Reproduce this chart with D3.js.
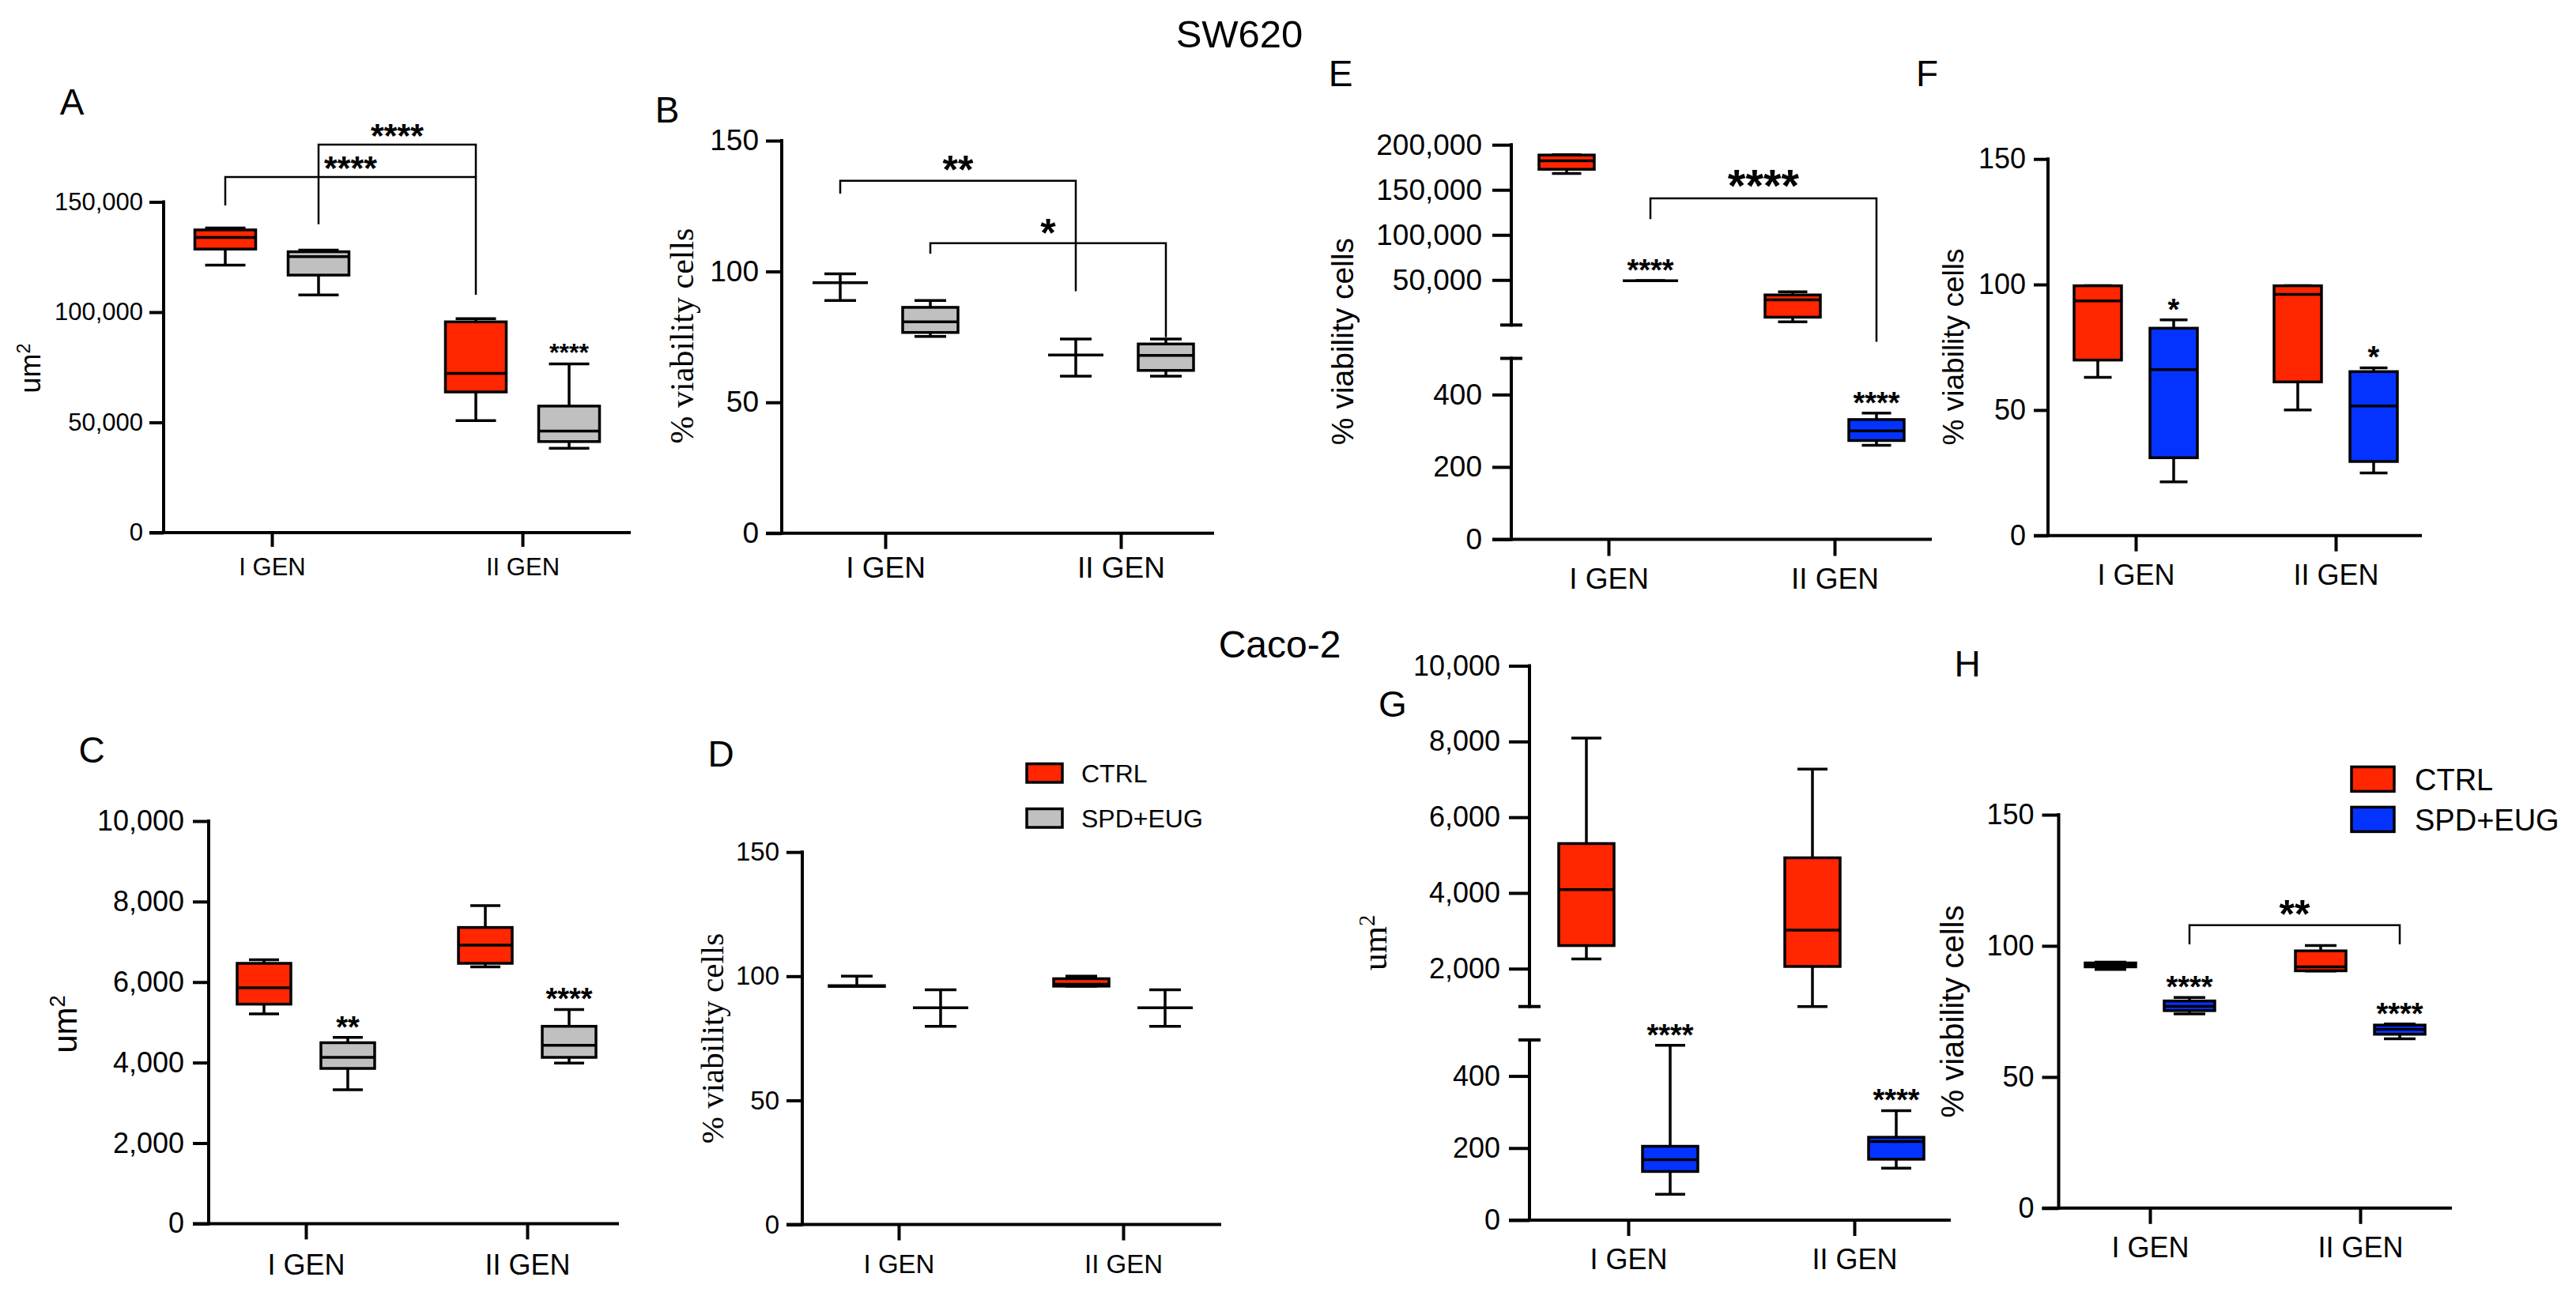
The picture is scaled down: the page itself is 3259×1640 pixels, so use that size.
<!DOCTYPE html>
<html lang="en">
<head>
    <meta charset="UTF-8">
    <title>SW620 and Caco-2 box plots</title>
    <style>
        body {
            margin: 0;
            background-color: #fff;
        }
        svg {
            display: block;
            background-color: #fff;
        }
        text {
            fill: #000;
        }
    </style>
</head>
<body>

    <div id="fig"></div>

    <script src="https://cdn.jsdelivr.net/npm/d3@7"></script>

    <script>
        // ---- data ----
        var categories = ["I GEN", "II GEN"];
        var legendLabels = ["CTRL", "SPD+EUG"];

        // every row is one box: [min, q1, median, q3, max]
        var aCtrl  = [[121300, 128600, 133900, 137300, 138200], [50800, 63800, 72200, 95600, 97000]];
        var aTreat = [[107800, 116800, 125200, 127400, 128100], [38300, 41300, 46100, 57400, 76500]];
        var aStars = ["", "****"];

        var bCtrl  = [[88.9, 95.7, 95.7, 95.7, 99.1], [60.0, 68.1, 68.1, 68.1, 74.2]];
        var bTreat = [[75.2, 76.7, 80.8, 86.3, 88.9], [60.0, 62.2, 67.9, 72.3, 74.2]];
        var bStars = ["", ""];

        var eCtrl  = [[168200, 172800, 182200, 188600, 189000], [3600, 8700, 27900, 33400, 36800]];
        var eTreat = [[49100, 49100, 49100, 49100, 49100], [260, 273, 299.5, 331, 349]];
        var eStars = ["****", "****"];

        var fCtrl  = [[63.0, 69.9, 93.5, 99.5, 99.5], [50.0, 61.2, 96.1, 99.5, 99.5]];
        var fTreat = [[21.4, 31.0, 66.1, 82.6, 85.9], [24.9, 29.5, 51.6, 65.3, 66.8]];
        var fStars = ["*", "*"];

        var cCtrl  = [[5210, 5452, 5860, 6466, 6554], [6378, 6466, 6917, 7357, 7900]];
        var cTreat = [[3325, 3855, 4130, 4494, 4627], [3987, 4130, 4428, 4902, 5320]];
        var cStars = ["**", "****"];

        var dCtrl  = [[95.9, 95.9, 96.0, 96.2, 100], [96.0, 96.0, 96.8, 99.0, 100]];
        var dTreat = [[79.8, 87.3, 87.3, 87.3, 94.5], [79.8, 87.3, 87.3, 87.3, 94.5]];
        var dStars = ["", ""];

        var gCtrl  = [[2259, 2610, 4086, 5305, 8092], [1000, 2058, 3019, 4929, 7273]];
        var gTreat = [[72, 135, 168, 205, 485], [144, 169, 218, 230, 304]];
        var gStars = ["****", "****"];

        var hCtrl  = [[91.0, 92.0, 92.8, 93.5, 93.8], [90.4, 90.5, 92.0, 98.1, 100.1]];
        var hTreat = [[74.1, 75.3, 76.9, 79.0, 80.3], [64.6, 66.3, 68.2, 69.8, 70.2]];
        var hStars = ["****", "****"];

        // comparison brackets: [category, series] at each end, bar level and leg ends in data units
        // (a null leg end runs down into the axis break)
        var aBrackets = [
            { from: [0, 0], to: [1, 0], level: 161300, ends: [148400, 107900], text: "****" },
            { from: [0, 1], to: [1, 0], level: 176000, ends: [139900, 161300], text: "****" }
        ];
        var bBrackets = [
            { from: [0, 0], to: [1, 0], level: 134.7, ends: [129.8, 92.5], text: "**" },
            { from: [0, 1], to: [1, 1], level: 110.8, ends: [106.8, 74.9], text: "*" }
        ];
        var eBrackets = [
            { from: [0, 1], to: [1, 1], level: 140600, ends: [117500, null], text: "****" }
        ];
        var hBrackets = [
            { from: [0, 1], to: [1, 1], level: 107.9, ends: [100.6, 100.6], text: "**" }
        ];

        // tick values
        var aTicks = [0, 50000, 100000, 150000];
        var pctTicks = [0, 50, 100, 150];
        var cTicks = [0, 2000, 4000, 6000, 8000, 10000];
        var eTopTicks = [50000, 100000, 150000, 200000];
        var eBottomTicks = [0, 200, 400];
        var gTopTicks = [2000, 4000, 6000, 8000, 10000];
        var gBottomTicks = [0, 200, 400];

        // ---- styling ----
        var RED = "#ff2600";
        var GRAY = "#c0c0c0";
        var BLUE = "#0433ff";
        var SANS = "'Liberation Sans', Arial, sans-serif";
        var SERIF = "'Liberation Serif', 'Times New Roman', serif";

        var W = 3259, H = 1640;

        var svg = d3.select("#fig")
            .append("svg")
            .attr("width", W)
            .attr("height", H)
            .style("font-family", SANS);

        function styleAxis(ax, size) {
            ax.attr("font-family", null).attr("font-size", null);
            ax.selectAll(".tick line").attr("stroke", "#000").attr("stroke-width", 4);
            ax.selectAll(".tick text")
                .style("font-size", size + "px")
                .style("font-family", SANS)
                .attr("fill", "#000");
        }

        function line(g, x1, y1, x2, y2, w) {
            return g.append("line")
                .attr("x1", x1).attr("y1", y1)
                .attr("x2", x2).attr("y2", y2)
                .attr("stroke", "#000")
                .attr("stroke-width", w);
        }

        function stars(g, x, cy, txt, size) {
            // asterisks sit high in the em box, so shift the baseline down
            g.append("text")
                .attr("x", x)
                .attr("y", cy + 0.575 * size)
                .attr("text-anchor", "middle")
                .style("font-size", size + "px")
                .style("font-weight", "bold")
                .text(txt);
        }

        function drawPanel(L, series, colors, boxStars, brackets) {
            var g = svg.append("g");

            var x = d3.scalePoint().domain(categories).range(L.ticksX);
            var ys = L.segs.map(function(s) {
                return d3.scaleLinear().domain(s.domain).range(s.range);
            });
            var baseY = L.segs[L.segs.length - 1].range[0];

            // y axis, one piece per segment of a broken axis
            L.segs.forEach(function(s, i) {
                var ax = g.append("g")
                    .attr("transform", "translate(" + L.yAxisX + ",0)")
                    .call(d3.axisLeft(ys[i])
                        .tickValues(s.ticks)
                        .tickFormat(d3.format(","))
                        .tickSize(L.ytl)
                        .tickPadding(L.ypad));
                ax.select(".domain").remove();
                styleAxis(ax, L.font);
                line(g, L.yAxisX, s.range[0], L.yAxisX, s.range[1], 4).attr("stroke-linecap", "square");
                if (s.breakBottom) line(g, L.yAxisX - 14, s.range[0], L.yAxisX + 14, s.range[0], 4);
                if (s.breakTop) line(g, L.yAxisX - 14, s.range[1], L.yAxisX + 14, s.range[1], 4);
            });

            // x axis
            var xa = g.append("g")
                .attr("transform", "translate(0," + baseY + ")")
                .call(d3.axisBottom(x).tickSize(L.xtl).tickPadding(L.xpad));
            xa.select(".domain").remove();
            styleAxis(xa, L.font);
            line(g, L.yAxisX - L.ytl, baseY, L.xEnd, baseY, 4);

            // pick the lowest axis segment that can hold a box
            function scaleFor(v) {
                for (var i = ys.length - 1; i >= 0; i--) {
                    if (L.segs[i].domain[1] >= v) return ys[i];
                }
                return ys[0];
            }
            function cxOf(ci, si) {
                return x(categories[ci]) + (si === 0 ? -L.dx : L.dx);
            }

            series.forEach(function(rows, si) {
                rows.forEach(function(q, ci) {
                    var y = scaleFor(q[4]);
                    var cx = cxOf(ci, si);
                    var hw = L.bw / 2, cw = L.cw / 2;

                    // whiskers and caps
                    line(g, cx, y(q[4]), cx, y(q[3]), 3.5);
                    line(g, cx, y(q[1]), cx, y(q[0]), 3.5);
                    line(g, cx - cw, y(q[4]), cx + cw, y(q[4]), 3.5);
                    line(g, cx - cw, y(q[0]), cx + cw, y(q[0]), 3.5);

                    // box and median
                    g.append("rect")
                        .attr("x", cx - hw)
                        .attr("y", y(q[3]))
                        .attr("width", L.bw)
                        .attr("height", Math.max(0, y(q[1]) - y(q[3])))
                        .attr("fill", colors[si])
                        .attr("stroke", "#000")
                        .attr("stroke-width", 3.5);
                    line(g, cx - hw, y(q[2]), cx + hw, y(q[2]), 3.5);

                    if (si === 1 && boxStars[ci]) {
                        stars(g, cx, y(q[4]) - 22, boxStars[ci], L.starSize);
                    }
                });
            });

            // significance brackets, drawn on the first (top) segment scale
            var yb = ys[0];
            var gapY = L.segs.length > 1 ? (L.segs[0].range[0] + L.segs[1].range[1]) / 2 : null;
            brackets.forEach(function(b) {
                var x1 = cxOf(b.from[0], b.from[1]);
                var x2 = cxOf(b.to[0], b.to[1]);
                var yl = yb(b.level);
                var e1 = b.ends[0] === null ? gapY : yb(b.ends[0]);
                var e2 = b.ends[1] === null ? gapY : yb(b.ends[1]);
                g.append("path")
                    .attr("d", "M" + x1 + "," + e1 + "V" + yl + "H" + x2 + "V" + e2)
                    .attr("fill", "none")
                    .attr("stroke", "#000")
                    .attr("stroke-width", 2.5);
                stars(g, (x1 + x2) / 2, yl - 0.5 * L.bracketSize, b.text, L.bracketSize);
            });

            // y axis title
            var t = g.append("text")
                .attr("transform", "translate(" + L.title.x + "," + L.title.y + ") rotate(-90)")
                .attr("text-anchor", "middle")
                .style("font-size", L.title.size + "px")
                .style("font-family", L.title.serif ? SERIF : SANS)
                .text(L.title.text);
            if (L.title.sup) {
                t.append("tspan")
                    .attr("baseline-shift", "super")
                    .style("font-size", "65%")
                    .text(L.title.sup);
            }

            // panel letter
            g.append("text")
                .attr("x", L.letter.x)
                .attr("y", L.letter.y)
                .attr("text-anchor", "middle")
                .style("font-size", "46px")
                .text(L.letter.text);

            if (L.legend) drawLegend(g, L.legend, colors);
        }

        function drawLegend(g, lg, colors) {
            legendLabels.forEach(function(name, i) {
                var top = lg.y + i * lg.step;
                g.append("rect")
                    .attr("x", lg.x)
                    .attr("y", top)
                    .attr("width", lg.w)
                    .attr("height", lg.h)
                    .attr("fill", colors[i])
                    .attr("stroke", "#000")
                    .attr("stroke-width", 3.5);
                g.append("text")
                    .attr("x", lg.textX)
                    .attr("y", top + lg.h / 2)
                    .attr("dy", "0.36em")
                    .style("font-size", lg.size + "px")
                    .text(name);
            });
        }

        // ---- panels ----
        drawPanel({
            yAxisX: 207, xEnd: 798, ticksX: [344, 661], dx: 59, bw: 77, cw: 51,
            segs: [{ domain: [0, 150000], range: [674, 255.5], ticks: aTicks }],
            font: 31, ytl: 18, ypad: 8, xtl: 18, xpad: 14, starSize: 32, bracketSize: 43,
            title: { text: "um", sup: "2", x: 51, y: 466, size: 36 },
            letter: { text: "A", x: 91, y: 145 }
        }, [aCtrl, aTreat], [RED, GRAY], aStars, aBrackets);

        drawPanel({
            yAxisX: 989, xEnd: 1536, ticksX: [1120, 1418], dx: 57, bw: 70, cw: 40,
            segs: [{ domain: [0, 150], range: [674.7, 178], ticks: pctTicks }],
            font: 37, ytl: 20, ypad: 9, xtl: 20, xpad: 10, starSize: 38, bracketSize: 50,
            title: { text: "% viability cells", serif: true, x: 877, y: 425, size: 42 },
            letter: { text: "B", x: 844, y: 155 }
        }, [bCtrl, bTreat], [RED, GRAY], bStars, bBrackets);

        drawPanel({
            yAxisX: 1912, xEnd: 2444, ticksX: [2035, 2321], dx: 53, bw: 70, cw: 37,
            segs: [
                { domain: [0, 200000], range: [411.3, 183.2], ticks: eTopTicks, breakBottom: true },
                { domain: [0, 500], range: [682.5, 453.5], ticks: eBottomTicks, breakTop: true }
            ],
            font: 37, ytl: 24, ypad: 13, xtl: 21, xpad: 15, starSize: 38, bracketSize: 58,
            title: { text: "% viability cells", x: 1712, y: 432, size: 39 },
            letter: { text: "E", x: 1696, y: 109 }
        }, [eCtrl, eTreat], [RED, BLUE], eStars, eBrackets);

        drawPanel({
            yAxisX: 2591, xEnd: 3064, ticksX: [2702, 2955], dx: 48, bw: 60, cw: 35,
            segs: [{ domain: [0, 150], range: [677.7, 201.2], ticks: pctTicks }],
            font: 36, ytl: 18, ypad: 10, xtl: 20, xpad: 17, starSize: 38, bracketSize: 50,
            title: { text: "% viability cells", x: 2484, y: 439, size: 37 },
            letter: { text: "F", x: 2438, y: 109 }
        }, [fCtrl, fTreat], [RED, BLUE], fStars, []);

        drawPanel({
            yAxisX: 264, xEnd: 783, ticksX: [387, 667], dx: 53, bw: 68, cw: 38,
            segs: [{ domain: [0, 10000], range: [1548.4, 1039], ticks: cTicks }],
            font: 36, ytl: 20, ypad: 11, xtl: 20, xpad: 19, starSize: 38, bracketSize: 50,
            title: { text: "um", sup: "2", x: 97, y: 1296, size: 42 },
            letter: { text: "C", x: 116, y: 965 }
        }, [cCtrl, cTreat], [RED, GRAY], cStars, []);

        drawPanel({
            yAxisX: 1015, xEnd: 1545, ticksX: [1137, 1421], dx: 53, bw: 70, cw: 40,
            segs: [{ domain: [0, 150], range: [1549.6, 1078.2], ticks: pctTicks }],
            font: 33, ytl: 20, ypad: 9, xtl: 20, xpad: 18, starSize: 38, bracketSize: 50,
            title: { text: "% viability cells", serif: true, x: 915, y: 1314, size: 41 },
            letter: { text: "D", x: 912, y: 970 },
            legend: { x: 1299, y: 966.5, step: 57, w: 45, h: 23.5, textX: 1368, size: 32 }
        }, [dCtrl, dTreat], [RED, GRAY], dStars, []);

        drawPanel({
            yAxisX: 1935, xEnd: 2468, ticksX: [2060, 2346], dx: 53, bw: 70, cw: 38,
            segs: [
                { domain: [1000, 10000], range: [1273.7, 842.5], ticks: gTopTicks, breakBottom: true },
                { domain: [0, 500], range: [1544, 1316], ticks: gBottomTicks, breakTop: true }
            ],
            font: 36, ytl: 26, ypad: 11, xtl: 20, xpad: 16, starSize: 38, bracketSize: 50,
            title: { text: "um", sup: "2", serif: true, x: 1754, y: 1193, size: 44 },
            letter: { text: "G", x: 1762, y: 907 }
        }, [gCtrl, gTreat], [RED, BLUE], gStars, []);

        drawPanel({
            yAxisX: 2604.5, xEnd: 3102, ticksX: [2720, 2986], dx: 50, bw: 64, cw: 40,
            segs: [{ domain: [0, 150], range: [1528.8, 1031], ticks: pctTicks }],
            font: 36, ytl: 21, ypad: 10, xtl: 20, xpad: 17, starSize: 38, bracketSize: 50,
            title: { text: "% viability cells", x: 2484, y: 1280, size: 40 },
            letter: { text: "H", x: 2489, y: 856 },
            legend: { x: 2975, y: 970.4, step: 51, w: 54, h: 31, textX: 3055, size: 38 }
        }, [hCtrl, hTreat], [RED, BLUE], hStars, hBrackets);

        // cell line headings
        svg.append("text")
            .attr("x", 1568).attr("y", 60)
            .attr("text-anchor", "middle")
            .style("font-size", "49px")
            .text("SW620");
        svg.append("text")
            .attr("x", 1619).attr("y", 832)
            .attr("text-anchor", "middle")
            .style("font-size", "48px")
            .text("Caco-2");
    </script>

</body>
</html>
